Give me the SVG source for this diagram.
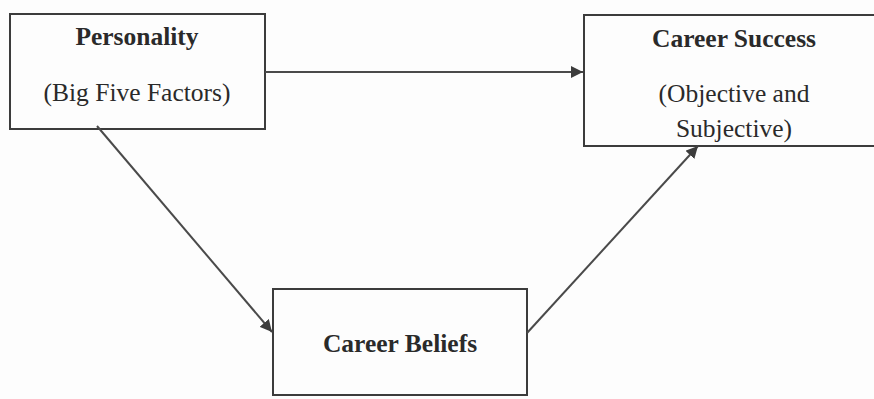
<svg xmlns="http://www.w3.org/2000/svg" width="874" height="399" viewBox="0 0 874 399">
<defs>
<style>
.box{fill:none;stroke:#3c3c3c;stroke-width:2}
.conn{stroke:#4a4a4a;stroke-width:2;fill:none}
.t{font-family:"Liberation Serif","Times New Roman",serif;font-size:25.5px;fill:#2a2a2a;text-anchor:middle}
.b{font-weight:bold}
</style>
<marker id="ah" viewBox="0 0 10 10" refX="10" refY="5" markerWidth="6" markerHeight="6" markerUnits="strokeWidth" orient="auto">
<path d="M0,0 L10,5 L0,10 z" fill="#3c3c3c"/>
</marker>
</defs>
<rect width="874" height="399" fill="#fdfdfd"/>
<g id="personality">
<rect class="box" x="10" y="14" width="255" height="115"/>
<text class="t b" x="137" y="45">Personality</text>
<text class="t" x="137" y="101">(Big Five Factors)</text>
</g>
<g id="career-success">
<rect class="box" x="584" y="15" width="300" height="131"/>
<text class="t b" x="734" y="47">Career Success</text>
<text class="t" x="734" y="102">(Objective and</text>
<text class="t" x="734" y="137">Subjective)</text>
</g>
<g id="career-beliefs">
<rect class="box" x="273" y="289" width="254" height="106"/>
<text class="t b" x="400" y="352">Career Beliefs</text>
</g>
<g id="connectors">
<line class="conn" x1="265" y1="72" x2="583" y2="72" marker-end="url(#ah)"/>
<line class="conn" x1="97" y1="126" x2="272" y2="332" marker-end="url(#ah)"/>
<line class="conn" x1="527" y1="333" x2="698" y2="146" marker-end="url(#ah)"/>
</g>
</svg>
